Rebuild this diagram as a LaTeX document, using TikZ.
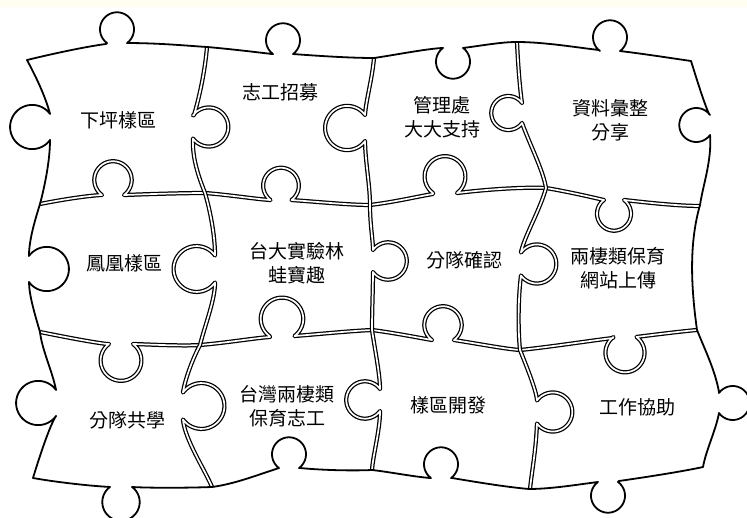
\documentclass[tikz,border=0pt]{standalone}
\usepackage{fontspec}
\newfontfamily\cjk{Noto Sans CJK TC}
\tikzset{
  knob/.style n args={5}{insert path={-- plot[domain=0:1,samples=40,variable=\t]
    ({#1+#5*13.7*cos(#3)+#5*17*cos(#3+180+(#4)*(36+288*\t))},
     {#2+#5*13.7*sin(#3)+#5*17*sin(#3+180+(#4)*(36+288*\t))})}},
  seam/.style={draw=black, line width=1.25pt, double=white, double distance=1.7pt, line join=round},
  outline/.style={draw=black, line width=1.8pt, line join=round},
  lbl/.style={font=\cjk\fontsize{19}{24}\selectfont, align=center, text=black}
}
\begin{document}
\begin{tikzpicture}[x=1pt,y=-1pt]
\useasboundingbox (0,0) rectangle (747,518);
\fill[white] (0,0) rectangle (747,518);
\fill[yellow!6] (0,0) rectangle (747,7);

% horizontal seam 1
\path[seam] (40,204) .. controls (60,200) and (85,196) .. (101,195)
  [knob={113}{195}{270}{1}{1.1}]
  .. controls (150,194) and (185,193) .. (205,193)
  .. controls (230,195) and (255,199) .. (270,200)
  [knob={281}{200}{270}{1}{1.05}]
  .. controls (320,202) and (350,205) .. (370,205)
  .. controls (395,202) and (420,196) .. (433,194)
  [knob={445}{193}{270}{1}{1.2}]
  .. controls (490,189) and (525,187) .. (546,188)
  .. controls (570,192) and (595,198) .. (604,200)
  [knob={614}{200}{90}{-1}{1}]
  .. controls (650,203) and (680,206) .. (700,206);

% horizontal seam 2
\path[seam] (40,332) .. controls (60,336) and (90,342) .. (107,344)
  [knob={121}{344}{90}{-1}{1.2}]
  .. controls (160,345) and (185,346) .. (200,345)
  .. controls (225,343) and (255,338) .. (270,337)
  [knob={282}{336}{270}{1}{1.25}]
  .. controls (320,334) and (350,331) .. (372,330)
  .. controls (395,333) and (420,338) .. (432,340)
  [knob={443}{340}{270}{1}{1.1}]
  .. controls (480,344) and (505,349) .. (520,350)
  .. controls (550,347) and (595,340) .. (613,338)
  [knob={625}{337}{90}{-1}{1.15}]
  .. controls (660,334) and (685,331) .. (697,330);

% vertical seam 1
\path[seam] (207,47) .. controls (205,70) and (200,95) .. (194,115)
  [knob={193}{127}{0}{1}{1.15}]
  .. controls (192,160) and (200,180) .. (205,193)
  .. controls (210,210) and (215,235) .. (215,255)
  [knob={215}{269}{180}{-1}{1.35}]
  .. controls (215,300) and (205,325) .. (200,345)
  .. controls (192,360) and (185,380) .. (183,392)
  [knob={183}{406}{0}{1}{1.35}]
  .. controls (185,440) and (205,470) .. (212,487);

% vertical seam 2
\path[seam] (374,58) .. controls (372,80) and (366,100) .. (365,115)
  [knob={365}{128}{180}{-1}{1.3}]
  .. controls (365,160) and (370,185) .. (370,205)
  .. controls (370,225) and (373,240) .. (373,250)
  [knob={373}{261}{0}{1}{1.1}]
  .. controls (373,290) and (372,310) .. (372,330)
  .. controls (375,350) and (380,375) .. (380,389)
  [knob={380}{400}{180}{-1}{1.1}]
  .. controls (380,430) and (373,455) .. (372,470);

% vertical seam 3
\path[seam] (517,42) .. controls (518,65) and (520,90) .. (522,103)
  [knob={522}{113}{180}{-1}{1}]
  .. controls (530,145) and (543,170) .. (546,188)
  .. controls (540,210) and (525,235) .. (521,252)
  [knob={521}{264}{0}{1}{1.15}]
  .. controls (518,300) and (518,330) .. (520,350)
  .. controls (528,370) and (536,390) .. (537,400)
  [knob={537}{412}{0}{1}{1.15}]
  .. controls (536,450) and (532,470) .. (530,489);

% outline
\path[outline] (27,60) .. controls (60,52) and (90,46) .. (106,44)
  [knob={117}{43}{270}{1}{1}]
  .. controls (160,43) and (190,46) .. (207,47)
  .. controls (230,49) and (255,52) .. (272,54)
  [knob={283}{54}{270}{1}{1}]
  .. controls (320,56) and (350,58) .. (374,58)
  .. controls (395,55) and (425,49) .. (442,48)
  [knob={453}{48}{90}{-1}{1}]
  .. controls (480,46) and (500,42) .. (517,42)
  .. controls (545,42) and (580,48) .. (599,50)
  [knob={610}{51}{270}{1}{1}]
  .. controls (645,54) and (670,58) .. (691,61)
  .. controls (697,80) and (703,100) .. (709,114)
  [knob={710}{125}{180}{-1}{1}]
  .. controls (712,160) and (703,185) .. (700,205)
  .. controls (690,240) and (690,280) .. (697,330)
  .. controls (705,350) and (715,370) .. (719,392)
  [knob={719}{403}{0}{1}{1}]
  .. controls (716,430) and (706,450) .. (703,467)
  .. controls (680,472) and (640,478) .. (619,481)
  [knob={608}{482}{90}{1}{1}]
  .. controls (575,485) and (550,489) .. (529,489)
  .. controls (505,487) and (470,481) .. (452,478)
  [knob={441}{478}{270}{-1}{1}]
  .. controls (415,477) and (390,472) .. (372,470)
  .. controls (350,471) and (320,470) .. (300,468)
  [knob={289}{468}{270}{-1}{1}]
  .. controls (260,474) and (235,484) .. (212,487)
  .. controls (185,488) and (150,488) .. (132,487)
  [knob={121}{487}{90}{1}{1.1}]
  .. controls (90,486) and (55,482) .. (33,478)
  .. controls (40,455) and (50,425) .. (56,416)
  [knob={56}{403}{180}{1}{1.3}]
  .. controls (52,370) and (42,350) .. (40,332)
  .. controls (35,315) and (29,295) .. (29,282)
  [knob={29}{269}{0}{-1}{1.3}]
  .. controls (29,240) and (35,220) .. (40,204)
  .. controls (45,185) and (50,160) .. (50,140)
  [knob={50}{127}{180}{1}{1.3}]
  .. controls (45,95) and (35,75) .. (27,60) -- cycle;

% labels
\node[lbl] (p1) at (118,120) {下坪樣區};
\node[lbl] (p2) at (280,92) {志工招募};
\node[lbl] (p3) at (442,117) {管理處\\大大支持};
\node[lbl] (p4) at (610,120) {資料彙整\\分享};
\node[lbl] (p5) at (124,263) {鳳凰樣區};
\node[lbl] (p6) at (297,263) {台大實驗林\\蛙寶趣};
\node[lbl] (p7) at (464,260) {分隊確認};
\node[lbl] (p8) at (618,268) {兩棲類保育\\網站上傳};
\node[lbl] (p9) at (127,420) {分隊共學};
\node[lbl] (p10) at (287,406) {台灣兩棲類\\保育志工};
\node[lbl] (p11) at (448,405) {樣區開發};
\node[lbl] (p12) at (637,407) {工作協助};
\end{tikzpicture}
\end{document}
